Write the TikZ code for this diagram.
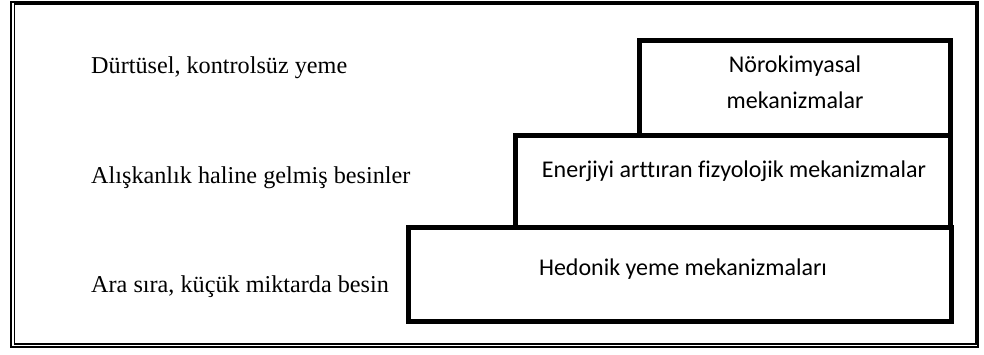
\documentclass[tikz,border=0pt]{standalone}
\usepackage{fontspec}
\setmainfont{Liberation Serif}
\newfontfamily\boxfont[Ligatures=NoCommon]{Carlito}
\begin{document}
\begin{tikzpicture}[x=1pt,y=-1pt,
  level/.style={draw=black, line width=5pt, minimum width=#1, inner sep=0pt, outer sep=0pt},
  lefttext/.style={anchor=base west, inner sep=0pt, font=\fontsize{24.2}{28}\selectfont},
  boxtext/.style={anchor=base, inner sep=0pt, align=center, font=\boxfont\fontsize{24}{36}\selectfont}]
\useasboundingbox (0,0) rectangle (984,354);
% frame
\draw[line width=2pt] (11,1.5) rectangle (978,347);
\draw[line width=1.2pt] (14.5,4) rectangle (976,344);
% level boxes
\node[level=311.5, minimum height=94.5] (top) at (794.75,87.75) {};
\node[level=435, minimum height=92.5] (mid) at (733,181.25) {};
\node[level=543, minimum height=93.5] (bot) at (680,274.25) {};
% box texts
\node[boxtext] (t1a) at (795,72) {Nörokimyasal};
\node[boxtext] (t1b) at (795,108) {mekanizmalar};
\node[boxtext] (t2) at (734,177) {Enerjiyi arttıran fizyolojik mekanizmalar};
\node[boxtext] (t3) at (683,275) {Hedonik yeme mekanizmaları};
% left texts
\node[lefttext] (l1) at (91,73) {Dürtüsel, kontrolsüz yeme};
\node[lefttext] (l2) at (91,183) {Alışkanlık haline gelmiş besinler};
\node[lefttext] (l3) at (91,292) {Ara sıra, küçük miktarda besin};
\end{tikzpicture}
\end{document}
